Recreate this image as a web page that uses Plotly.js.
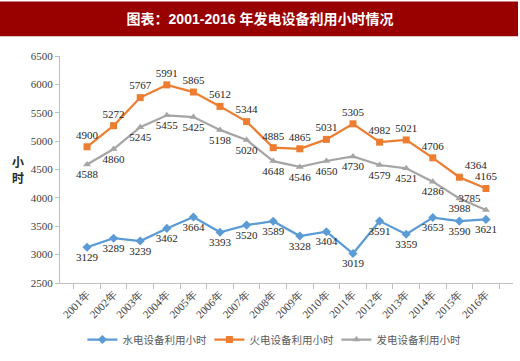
<!DOCTYPE html>
<html><head><meta charset="utf-8">
<script src="https://cdn.plot.ly/plotly-3.0.1.min.js"></script>
<style>html,body{margin:0;padding:0;background:#fff;}#chart{width:520px;height:361px;}</style>
</head><body><div id="chart"></div>
<script>
const years = ["2001年","2002年","2003年","2004年","2005年","2006年","2007年","2008年","2009年","2010年","2011年","2012年","2013年","2014年","2015年","2016年"];
const hydro = [3129,3289,3239,3462,3664,3393,3520,3589,3328,3404,3019,3591,3359,3653,3590,3621];
const thermal = [4900,5272,5767,5991,5865,5612,5344,4885,4865,5031,5305,4982,5021,4706,4364,4165];
const total = [4588,4860,5245,5455,5425,5198,5020,4648,4546,4650,4730,4579,4521,4286,3988,3785];
const names = ["水电设备利用小时","火电设备利用小时","发电设备利用小时"];
const yTicks = [2500,3000,3500,4000,4500,5000,5500,6000,6500];

const serif = "Liberation Serif, Times New Roman, serif";
const lblFont = {family: serif, size: 11, color: "#262626"};

const thermalPos = thermal.map((v,i)=> i===14 ? "top right" : "top center");
const totalPos = total.map((v,i)=> i===15 ? "top left" : "bottom center");

const traces = [
  {x: years, y: hydro, name: names[0], type: "scatter", mode: "lines+markers+text",
   line: {color: "#5B9BD5", width: 2.25}, marker: {symbol: "diamond", size: 7, color: "#5B9BD5"},
   text: hydro.map(String), textposition: "bottom center", textfont: lblFont, cliponaxis: false},
  {x: years, y: thermal, name: names[1], type: "scatter", mode: "lines+markers+text",
   line: {color: "#ED7D31", width: 2.25}, marker: {symbol: "square", size: 7, color: "#ED7D31"},
   text: thermal.map(String), textposition: thermalPos, textfont: lblFont, cliponaxis: false},
  {x: years, y: total, name: names[2], type: "scatter", mode: "lines+markers+text",
   line: {color: "#A5A5A5", width: 2.25}, marker: {symbol: "triangle-up", size: 7, color: "#A5A5A5"},
   text: total.map(String), textposition: totalPos, textfont: lblFont, cliponaxis: false}
];

const L = 60, R = 7, T = 56, B = 76, W = 520, H = 361;
const pw = W - L - R, ph = H - T - B;
const px2x = p => (p - L) / pw;
const py2y = p => (H - B - p) / ph;

const layout = {
  width: W, height: H,
  margin: {l: L, r: R, t: T, b: B, pad: 0},
  paper_bgcolor: "#fff", plot_bgcolor: "#fff",
  showlegend: true,
  title: {text: "<b>图表：2001-2016 年发电设备利用小时情况</b>", x: 0.5, xref: "container", xanchor: "center",
          y: 1 - 19 / H, yref: "container", yanchor: "middle",
          font: {family: "Liberation Sans, Noto Sans CJK SC, sans-serif", size: 14, color: "#ffffff"}},
  shapes: [{type: "rect", xref: "paper", yref: "paper", x0: px2x(0), x1: px2x(518), y0: py2y(36), y1: py2y(1),
            fillcolor: "#990000", line: {width: 0}, layer: "below"}],
  xaxis: {type: "category", showgrid: false, zeroline: false, showline: true, linecolor: "#BFBFBF", linewidth: 1,
          ticks: "outside", tickson: "boundaries", ticklen: 5, tickcolor: "#BFBFBF",
          tickangle: -45, tickfont: {family: serif, size: 11, color: "#404040"}, fixedrange: true},
  yaxis: {range: [2500, 6500], tickvals: yTicks, ticktext: yTicks.map(String), showgrid: false, zeroline: false,
          showline: true, linecolor: "#BFBFBF", linewidth: 1, ticks: "outside", ticklen: 4, tickcolor: "#BFBFBF",
          tickfont: {family: serif, size: 11, color: "#404040"}, fixedrange: true},
  legend: {orientation: "h", x: 0.47, xanchor: "center", y: py2y(342), yanchor: "middle",
           itemwidth: 30, entrywidth: 82, entrywidthmode: "pixels",
           font: {family: "Noto Sans CJK SC, sans-serif", size: 10.5, color: "#595959"}, bgcolor: "rgba(0,0,0,0)"},
  annotations: [{text: "<b>小<br>时</b>", xref: "paper", yref: "paper", x: px2x(18), y: py2y(170),
                 xanchor: "center", yanchor: "middle", showarrow: false,
                 font: {family: "Noto Sans CJK SC, sans-serif", size: 12, color: "#262626"}}]
};

Plotly.newPlot("chart", traces, layout, {displayModeBar: false, staticPlot: true});
</script></body></html>
